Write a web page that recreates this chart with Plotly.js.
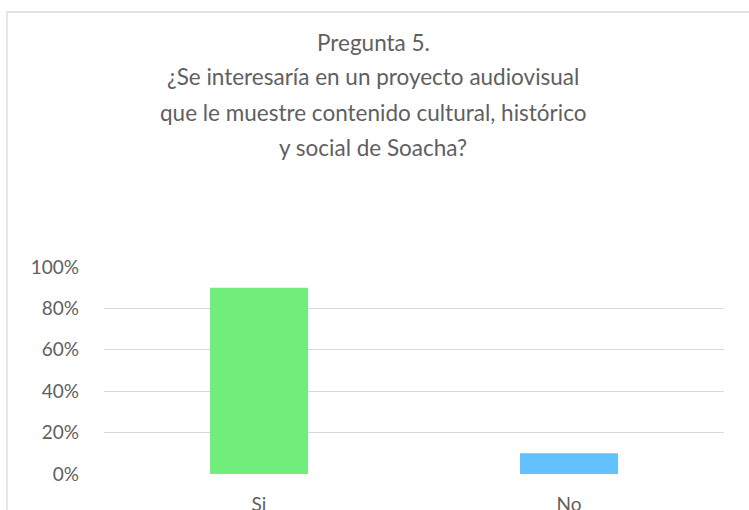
<!DOCTYPE html>
<html>
<head>
<meta charset="utf-8">
<script src="https://cdn.plot.ly/plotly-3.0.1.min.js"></script>
<style>html,body{margin:0;padding:0;background:#fff;}#chart{width:749px;height:510px;}</style>
</head>
<body>
<div id="chart"></div>
<script>
const categories = ["Si", "No"];
const values = [0.90, 0.10];
const barColors = ["#71ED7B", "#63C1FF"];
const titleLines = [
  "Pregunta 5.",
  "¿Se interesaría en un proyecto audiovisual",
  "que le muestre contenido cultural, histórico",
  "y social de Soacha?"
];
const yTicks = [0, 0.2, 0.4, 0.6, 0.8, 1.0];
const yTickLabels = ["0%", "20%", "40%", "60%", "80%", "100%"];

const font = "Lato, 'Open Sans', sans-serif";
const titleY = [42, 77, 112, 147];
const plotTop = 267, plotBottom = 474, plotH = plotBottom - plotTop;
const plotLeft = 104, plotW = 620;

const annotations = titleLines.map((t, i) => ({
  text: t, xref: "paper", yref: "paper",
  x: (373 - plotLeft) / plotW, y: (plotBottom - titleY[i]) / plotH,
  xanchor: "center", yanchor: "middle", showarrow: false,
  font: {family: font, size: 22.5, color: "#5f5f5f"}
}));

const trace = {
  type: "bar", x: categories, y: values,
  marker: {color: barColors}, hoverinfo: "none"
};

const layout = {
  width: 749, height: 510,
  margin: {l: plotLeft, r: 749 - plotLeft - plotW, t: plotTop, b: 510 - plotBottom, pad: 0},
  paper_bgcolor: "#fff", plot_bgcolor: "#fff",
  showlegend: false, bargap: 0.684,
  xaxis: {
    type: "category", showgrid: false, zeroline: false, showline: false,
    ticks: "", ticklabelstandoff: 17,
    tickfont: {family: font, size: 19, color: "#5f5f5f"}
  },
  yaxis: {
    range: [0, 1], tickvals: yTicks, ticktext: yTickLabels,
    showgrid: true, gridcolor: "#d9d9d9", gridwidth: 1.3,
    zeroline: false, showline: false, ticks: "", ticklabelstandoff: 24,
    tickfont: {family: font, size: 19, color: "#5f5f5f"}
  },
  annotations: annotations,
  shapes: [{
    type: "rect", xref: "paper", yref: "paper",
    x0: (7 - plotLeft) / plotW, x1: (760 - plotLeft) / plotW,
    y0: -0.5, y1: (plotBottom - 12) / plotH,
    line: {color: "#d9d9d9", width: 1.3}, fillcolor: "rgba(0,0,0,0)", layer: "below"
  }]
};

Plotly.newPlot("chart", [trace], layout, {displayModeBar: false, staticPlot: true});
</script>
</body>
</html>
